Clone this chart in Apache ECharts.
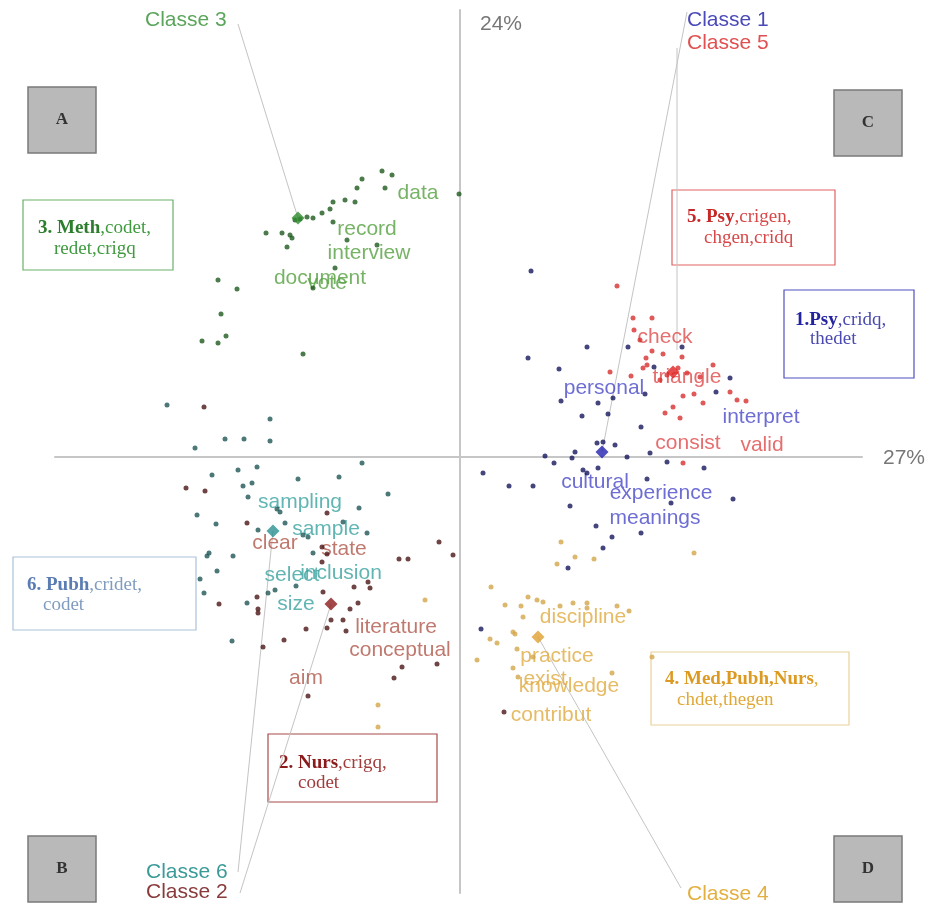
<!DOCTYPE html>
<html>
<head>
<meta charset="utf-8">
<script src="https://cdn.jsdelivr.net/npm/echarts@6.0.0/dist/echarts.min.js"></script>
<style>
  html, body { margin: 0; padding: 0; background: #fff; }
  #chart { width: 928px; height: 904px; }
</style>
</head>
<body>
<div id="chart"></div>
<script>
// factor scores, axis 1 (27%) horizontal, axis 2 (24%) vertical
const class3Pts = [
  [-0.78, 2.86], [-0.68, 2.82], [-0.98, 2.78], [-1.03, 2.69], [-0.75, 2.69], [-0.01, 2.63],
  [-1.05, 2.55], [-1.15, 2.57], [-1.27, 2.55], [-1.30, 2.48], [-1.38, 2.44], [-1.47, 2.39],
  [-1.53, 2.40], [-1.60, 2.38], [-1.65, 2.37], [-1.27, 2.35], [-1.94, 2.24], [-1.78, 2.24],
  [-1.68, 2.19], [-1.73, 2.10], [-1.70, 2.22], [-1.13, 2.17], [-0.83, 2.12], [-1.25, 1.89],
  [-1.47, 1.69], [-2.42, 1.77], [-2.23, 1.68], [-2.39, 1.43], [-2.58, 1.16], [-2.42, 1.14],
  [-2.34, 1.21], [-1.57, 1.03]
];
const class6Pts = [
  [-2.93, 0.52], [-1.90, 0.38], [-2.35, 0.18], [-2.16, 0.18], [-1.90, 0.16], [-2.65, 0.09],
  [-2.48, -0.18], [-2.22, -0.13], [-2.03, -0.10], [-2.17, -0.29], [-2.08, -0.26], [-1.62, -0.22],
  [-2.12, -0.40], [-2.63, -0.58], [-2.44, -0.67], [-1.83, -0.52], [-1.80, -0.55], [-2.02, -0.73],
  [-1.75, -0.66], [-1.57, -0.78], [-1.52, -0.80], [-1.17, -0.65], [-0.93, -0.76], [-2.51, -0.96],
  [-2.53, -0.99], [-2.27, -0.99], [-1.47, -0.96], [-2.43, -1.14], [-2.60, -1.22], [-2.56, -1.36],
  [-1.64, -1.29], [-1.85, -1.33], [-1.92, -1.36], [-2.13, -1.46], [-2.28, -1.84], [-1.01, -0.51],
  [-1.21, -0.20], [-0.98, -0.06], [-0.72, -0.37]
];
const class2Pts = [
  [-2.56, 0.50], [-2.74, -0.31], [-2.55, -0.34], [-2.13, -0.66], [-1.33, -0.56], [-0.21, -0.85],
  [-0.07, -0.98], [-0.61, -1.02], [-0.52, -1.02], [-1.38, -0.90], [-1.33, -0.97], [-1.38, -1.05],
  [-1.37, -1.35], [-1.06, -1.30], [-0.92, -1.25], [-0.90, -1.31], [-2.03, -1.40], [-2.02, -1.52],
  [-2.02, -1.56], [-2.41, -1.47], [-1.02, -1.46], [-1.10, -1.52], [-1.29, -1.63], [-1.17, -1.63],
  [-1.33, -1.71], [-1.14, -1.74], [-1.54, -1.72], [-1.76, -1.83], [-1.97, -1.90], [-0.58, -2.10],
  [-0.23, -2.07], [-0.66, -2.21], [-1.52, -2.39], [0.44, -2.55]
];
const class1Pts = [
  [0.68, 0.99], [0.99, 0.88], [1.27, 1.10], [1.68, 1.10], [2.22, 1.10], [1.94, 0.90],
  [2.70, 0.79], [1.85, 0.63], [2.56, 0.65], [1.01, 0.56], [1.38, 0.54], [1.53, 0.59],
  [1.22, 0.41], [1.48, 0.43], [1.81, 0.30], [1.43, 0.15], [1.37, 0.14], [1.55, 0.12],
  [1.15, 0.05], [0.85, 0.01], [1.12, -0.01], [1.67, 0.00], [1.90, 0.04], [0.23, -0.16],
  [0.49, -0.29], [0.73, -0.29], [0.94, -0.06], [1.23, -0.13], [1.27, -0.16], [1.38, -0.11],
  [2.07, -0.05], [2.44, -0.11], [1.87, -0.22], [2.11, -0.46], [2.73, -0.42], [1.10, -0.49],
  [1.36, -0.69], [1.52, -0.80], [1.81, -0.76], [1.43, -0.91], [1.08, -1.11], [0.21, -1.72],
  [0.71, 1.86]
];
const class5Pts = [
  [1.57, 1.71], [1.73, 1.39], [1.92, 1.39], [1.92, 1.06], [2.03, 1.03], [2.22, 1.00],
  [1.86, 0.99], [1.87, 0.92], [1.83, 0.89], [1.50, 0.85], [1.71, 0.81], [2.27, 0.84],
  [2.40, 0.80], [2.53, 0.92], [2.23, 0.61], [2.34, 0.63], [2.43, 0.54], [2.70, 0.65],
  [2.77, 0.57], [2.86, 0.56], [2.05, 0.44], [2.13, 0.50], [2.20, 0.39], [2.23, -0.06],
  [2.00, 0.77], [2.07, 0.82], [2.18, 0.89], [1.80, 1.17], [1.74, 1.27]
];
const class4Pts = [
  [-0.35, -1.43], [-0.82, -2.48], [-0.82, -2.70], [1.01, -0.85], [1.15, -1.00], [1.34, -1.02],
  [0.97, -1.07], [2.34, -0.96], [0.31, -1.30], [0.45, -1.48], [0.61, -1.49], [0.68, -1.40],
  [0.77, -1.43], [0.83, -1.45], [0.63, -1.60], [1.00, -1.49], [1.13, -1.46], [1.27, -1.46],
  [1.27, -1.51], [1.57, -1.49], [1.69, -1.54], [0.53, -1.75], [0.55, -1.77], [0.30, -1.82],
  [0.37, -1.86], [0.57, -1.92], [0.17, -2.03], [0.73, -2.00], [0.53, -2.11], [0.58, -2.20],
  [1.52, -2.16], [1.92, -2.00]
];

// class centres
const centroids = {
  c3: [-1.62, 2.39], c6: [-1.87, -0.74], c2: [-1.29, -1.47],
  c1: [1.42, 0.05], c5: [2.13, 0.85], c4: [0.78, -1.80]
};

// characteristic words
const class3Words = [[-0.42, 2.64, 'data'], [-0.93, 2.28, 'record'], [-0.91, 2.04, 'interview'], [-1.40, 1.79, 'document'], [-1.33, 1.74, 'vote']];
const class6Words = [[-1.60, -0.45, 'sampling'], [-1.34, -0.72, 'sample'], [-1.19, -1.16, 'inclusion'], [-1.68, -1.18, 'select'], [-1.64, -1.47, 'size']];
const class2Words = [[-1.85, -0.86, 'clear'], [-1.16, -0.92, 'state'], [-0.64, -1.70, 'literature'], [-0.60, -1.93, 'conceptual'], [-1.54, -2.21, 'aim']];
const class1Words = [[1.44, 0.69, 'personal'], [3.01, 0.40, 'interpret'], [1.35, -0.25, 'cultural'], [2.01, -0.36, 'experience'], [1.95, -0.61, 'meanings']];
const class5Words = [[2.05, 1.20, 'check'], [2.27, 0.80, 'triangle'], [2.28, 0.14, 'consist'], [3.02, 0.12, 'valid']];
const class4Words = [[1.23, -1.60, 'discipline'], [0.97, -1.99, 'practice'], [0.85, -2.22, 'exist'], [1.09, -2.29, 'knowledge'], [0.91, -2.58, 'contribut']];

const axisPct = ['27%', '24%'];

const COL = {
  c3: { dot: '#1e5a1e', ctr: '#2e8b2e', word: '#55a040' },
  c6: { dot: '#1f5656', ctr: '#2a9090', word: '#3aa3a0' },
  c2: { dot: '#4a1515', ctr: '#8b1a1a', word: '#b0584a' },
  c1: { dot: '#16165e', ctr: '#2020b0', word: '#4848c8' },
  c5: { dot: '#d83030', ctr: '#e02020', word: '#e04a4a' },
  c4: { dot: '#d2a64a', ctr: '#e0a030', word: '#e0aa40' }
};

const WORD_FONT = '"Liberation Sans", Arial, sans-serif';
const SERIF = '"Liberation Serif", "DejaVu Serif", serif';
const WORD_SIZE = 21;
const BOX_SIZE = 19;

const chart = echarts.init(document.getElementById('chart'));

function dots(name, data, key) {
  return { name, type: 'scatter', data, symbolSize: 5, z: 4,
    itemStyle: { color: COL[key].dot }, silent: true };
}
function centre(key) {
  return { type: 'scatter', data: [centroids[key]], symbol: 'diamond', symbolSize: 13, z: 5,
    itemStyle: { color: COL[key].ctr }, silent: true };
}
function words(data, key) {
  return { type: 'scatter', data, symbolSize: 0, z: 3, silent: true,
    label: { show: true, position: 'inside', formatter: p => p.value[2],
      color: COL[key].word, fontSize: WORD_SIZE, fontFamily: WORD_FONT } };
}

chart.setOption({
  animation: false,
  backgroundColor: '#fff',
  grid: { left: 55, right: 66, top: 10, bottom: 11 },
  xAxis: {
    type: 'value', min: -4.05, max: 4.02,
    axisLine: { onZero: true, lineStyle: { color: '#c6c6c6', width: 2 } },
    axisTick: { show: false }, axisLabel: { show: false }, splitLine: { show: false }
  },
  yAxis: {
    type: 'value', min: -4.36, max: 4.47,
    axisLine: { onZero: true, lineStyle: { color: '#c6c6c6', width: 2 } },
    axisTick: { show: false }, axisLabel: { show: false }, splitLine: { show: false }
  },
  series: [
    words(class3Words, 'c3'), words(class6Words, 'c6'), words(class2Words, 'c2'),
    words(class1Words, 'c1'), words(class5Words, 'c5'), words(class4Words, 'c4'),
    dots('Classe 3', class3Pts, 'c3'), dots('Classe 6', class6Pts, 'c6'),
    dots('Classe 2', class2Pts, 'c2'), dots('Classe 1', class1Pts, 'c1'),
    dots('Classe 5', class5Pts, 'c5'), dots('Classe 4', class4Pts, 'c4'),
    centre('c3'), centre('c6'), centre('c2'), centre('c1'), centre('c5'), centre('c4')
  ]
});

// annotation layer: leader lines, class tags, boxes
const px = p => chart.convertToPixel({ gridIndex: 0 }, p);

function leader(from, to) {
  return { type: 'line', z: 1, silent: true,
    shape: { x1: from[0], y1: from[1], x2: to[0], y2: to[1] },
    style: { stroke: '#c4c4c4', lineWidth: 1 } };
}
function tag(text, x, y, color) {
  return { type: 'text', z: 6, x, y, silent: true,
    style: { text, fill: color, font: WORD_SIZE + 'px ' + WORD_FONT, align: 'left', verticalAlign: 'middle',
      textAlign: 'left', textVerticalAlign: 'middle' } };
}
function letterBox(letter, x, y) {
  return { type: 'group', x, y, z: 6, silent: true, children: [
    { type: 'rect', shape: { x: 0, y: 0, width: 68, height: 66 },
      style: { fill: '#b9b9b9', stroke: '#7a7a7a', lineWidth: 1.5 } },
    { type: 'text', x: 34, y: 33, style: { text: letter, fill: '#333', font: 'bold 17px ' + SERIF,
      align: 'center', verticalAlign: 'middle', textAlign: 'center', textVerticalAlign: 'middle' } }
  ] };
}
function classBox(x, y, w, h, border, lines) {
  const children = [{ type: 'rect', shape: { x: 0, y: 0, width: w, height: h },
    style: { fill: '#fff', stroke: border, lineWidth: 1.2 } }];
  lines.forEach(l => {
    children.push({ type: 'text', x: l.x, y: l.y, style: {
      text: l.text, rich: { b: { fontWeight: 'bold', fill: l.bold, fontSize: BOX_SIZE, fontFamily: SERIF },
        n: { fill: l.color, fontSize: BOX_SIZE, fontFamily: SERIF } },
      fill: l.color, font: BOX_SIZE + 'px ' + SERIF, align: 'left', verticalAlign: 'middle',
      textAlign: 'left', textVerticalAlign: 'middle' } });
  });
  return { type: 'group', x, y, z: 6, silent: true, children };
}

const graphic = [
  leader([238, 24], px(centroids.c3)),
  leader([687, 12], px(centroids.c1)),
  leader([677, 48], [677, 350]),
  leader([238, 872], px(centroids.c6)),
  leader([240, 893], px(centroids.c2)),
  leader([681, 888], px(centroids.c4)),

  tag('Classe 3', 145, 20, '#5aa55a'),
  tag('Classe 1', 687, 20, '#4a4ab8'),
  tag('Classe 5', 687, 43, '#e05050'),
  tag('Classe 6', 146, 872, '#3a9a98'),
  tag('Classe 2', 146, 892, '#8a3a3a'),
  tag('Classe 4', 687, 894, '#e2b040'),
  tag(axisPct[1], 480, 24, '#777'),
  tag(axisPct[0], 883, 458, '#777'),

  letterBox('A', 28, 87),
  letterBox('C', 834, 90),
  letterBox('B', 28, 836),
  letterBox('D', 834, 836),

  classBox(23, 200, 150, 70, '#6ab06a', [
    { x: 15, y: 28, text: '{b|3. Meth}{n|,codet,}', color: '#3f9a3f', bold: '#2e7d2e' },
    { x: 31, y: 49, text: '{n|redet,crigq}', color: '#3f9a3f', bold: '#2e7d2e' }
  ]),
  classBox(672, 190, 163, 75, '#e26262', [
    { x: 15, y: 27, text: '{b|5. Psy}{n|,crigen,}', color: '#d84848', bold: '#c62828' },
    { x: 32, y: 48, text: '{n|chgen,cridq}', color: '#d84848', bold: '#c62828' }
  ]),
  classBox(784, 290, 130, 88, '#5050c0', [
    { x: 11, y: 30, text: '{b|1.Psy}{n|,cridq,}', color: '#4a4ab0', bold: '#2323a0' },
    { x: 26, y: 49, text: '{n|thedet}', color: '#4a4ab0', bold: '#2323a0' }
  ]),
  classBox(651, 652, 198, 73, '#ead29a', [
    { x: 14, y: 27, text: '{b|4. Med,Pubh,Nurs}{n|,}', color: '#e0a838', bold: '#dc9a22' },
    { x: 26, y: 48, text: '{n|chdet,thegen}', color: '#e0a838', bold: '#dc9a22' }
  ]),
  classBox(13, 557, 183, 73, '#aac2da', [
    { x: 14, y: 28, text: '{b|6. Pubh}{n|,cridet,}', color: '#7f9cc0', bold: '#5a7cb2' },
    { x: 30, y: 48, text: '{n|codet}', color: '#7f9cc0', bold: '#5a7cb2' }
  ]),
  classBox(268, 734, 169, 68, '#a84a4a', [
    { x: 11, y: 29, text: '{b|2. Nurs}{n|,crigq,}', color: '#a23c3c', bold: '#8b1a1a' },
    { x: 30, y: 49, text: '{n|codet}', color: '#a23c3c', bold: '#8b1a1a' }
  ])
];

chart.setOption({ graphic });
</script>
</body>
</html>
